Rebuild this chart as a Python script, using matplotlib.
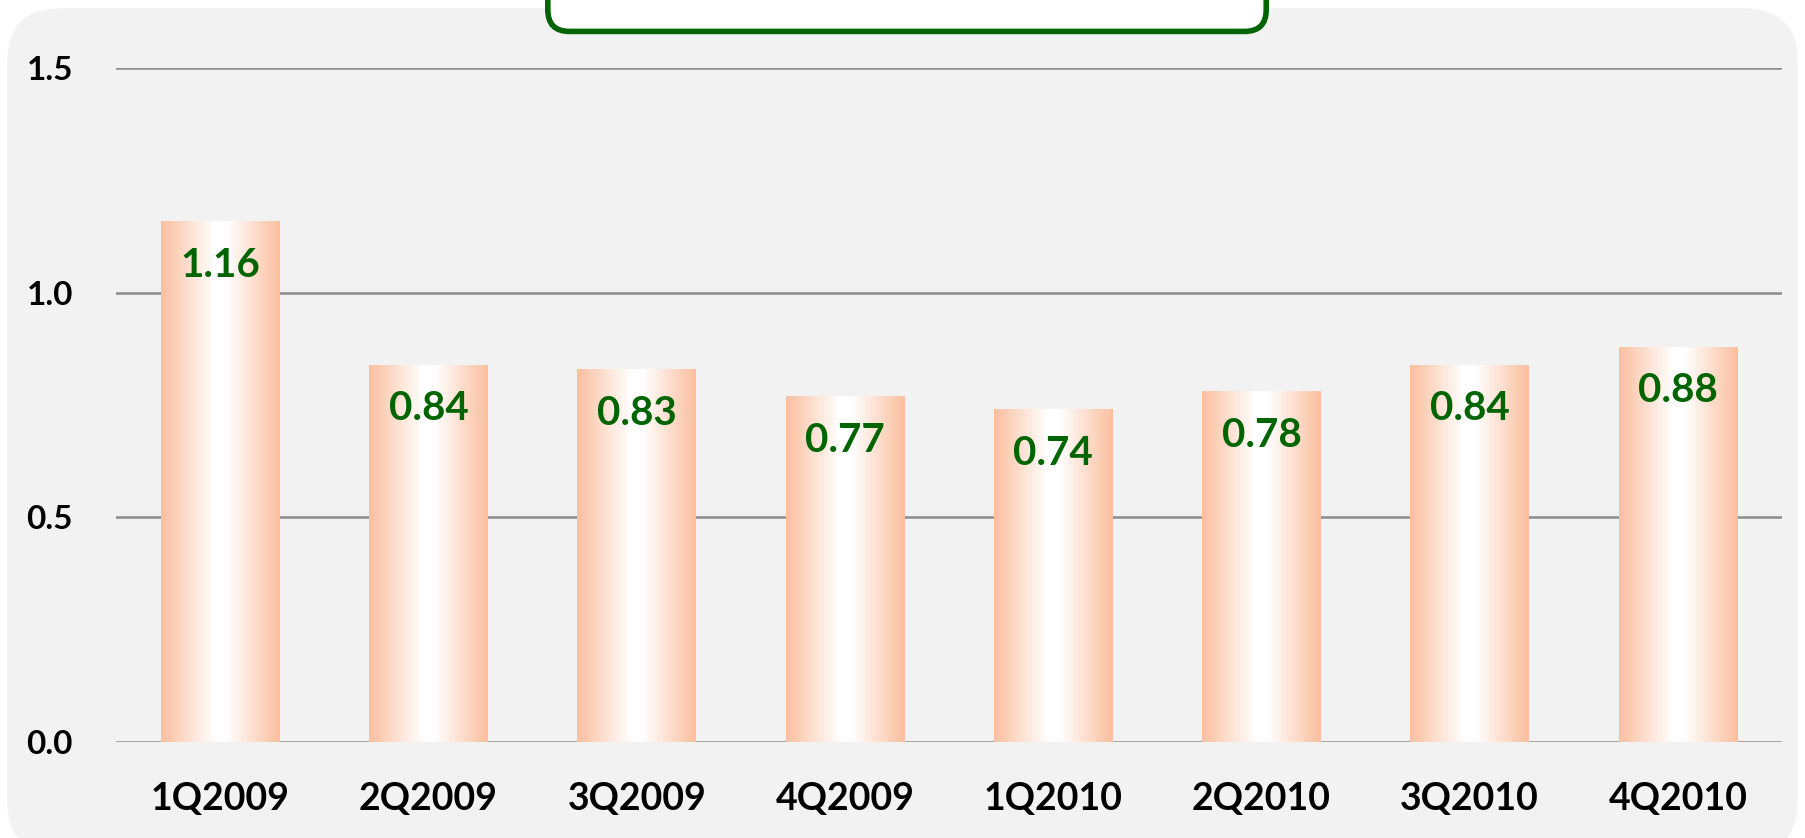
"""Quarterly bar chart with gradient bars on a grey rounded panel."""
import numpy as np
import matplotlib
matplotlib.use("Agg")
import matplotlib.pyplot as plt
from matplotlib.patches import FancyBboxPatch
from matplotlib.colors import LinearSegmentedColormap

plt.rcParams["font.family"] = ["Lato", "DejaVu Sans"]

quarters = ["1Q2009", "2Q2009", "3Q2009", "4Q2009",
            "1Q2010", "2Q2010", "3Q2010", "4Q2010"]
values = [1.16, 0.84, 0.83, 0.77, 0.74, 0.78, 0.84, 0.88]
yticks = [0.0, 0.5, 1.0, 1.5]

GREEN = "#006400"
EDGE = "#fbbf9e"
WEIGHT = "bold"

fig = plt.figure(figsize=(18.05, 8.38), dpi=100)
fig.patch.set_facecolor("white")

# grey rounded panel behind everything
fig.patches.append(FancyBboxPatch(
    (0.004, -0.02), 0.992, 1.01, boxstyle="round,pad=0,rounding_size=0.03",
    transform=fig.transFigure, fc="#f2f2f2", ec="none", zorder=-10,
    mutation_aspect=1805 / 838))

# title box (top part is off the picture)
fig.patches.append(FancyBboxPatch(
    (0.3035, 0.9625), 0.398, 0.08, boxstyle="round,pad=0,rounding_size=0.012",
    transform=fig.transFigure, fc="white", ec=GREEN, lw=4, zorder=5,
    mutation_aspect=1805 / 838))

ax = fig.add_axes([0.0643, 0.1146, 0.9230, 0.8043])
ax.set_facecolor("none")
for s in ax.spines.values():
    s.set_visible(False)

x = np.arange(len(quarters))
ax.set_yticks(yticks)
ax.set_yticklabels([f"{t:.1f}" for t in yticks], fontsize=24, fontweight=WEIGHT)
ax.set_xticks(x)
ax.set_xticklabels(quarters, fontsize=27, fontweight=WEIGHT)
ax.tick_params(axis="y", length=0, pad=31)
ax.tick_params(axis="x", length=0, pad=29)
ax.grid(axis="y", color="#8c8c8c", lw=1.8)
ax.set_axisbelow(True)

cmap = LinearSegmentedColormap.from_list(
    "barfill", [(0, EDGE), (0.45, "white"), (0.55, "white"), (1, EDGE)])
grad = np.linspace(0, 1, 256).reshape(1, -1)

bars = ax.bar(x, values, width=0.57, color="none", edgecolor="none", zorder=2)
for b, v in zip(bars, values):
    x0, w = b.get_x(), b.get_width()
    im = ax.imshow(grad, cmap=cmap, aspect="auto", extent=(x0, x0 + w, 0, v),
                   zorder=2, interpolation="bicubic")
    im.set_clip_path(b)
    ax.annotate(f"{v:.2f}", (b.get_x() + w / 2, v), xytext=(0, -32),
                textcoords="offset points", ha="center", va="center",
                fontsize=29, fontweight=WEIGHT, color=GREEN, zorder=3)

ax.set_xlim(-0.5, len(quarters) - 0.5)
ax.set_ylim(0, 1.5)

fig.savefig("out.png", dpi=100)
